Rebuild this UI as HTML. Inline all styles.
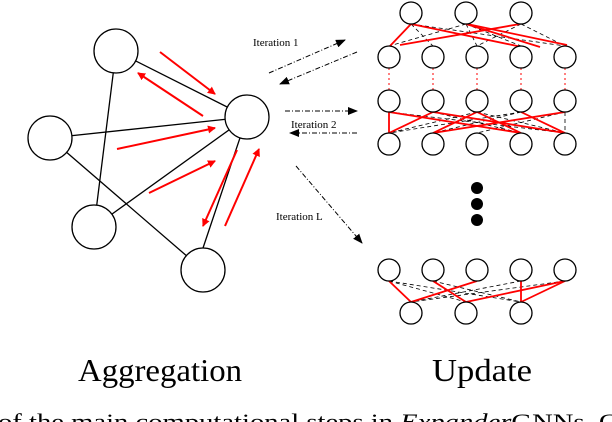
<!DOCTYPE html>
<html><head><style>html,body{margin:0;padding:0;background:#fff}svg{display:block}</style></head><body>
<svg width="612" height="422" viewBox="0 0 612 422" xmlns="http://www.w3.org/2000/svg">
<defs>
<marker id="rh" markerWidth="8" markerHeight="8" refX="7" refY="4" orient="auto" markerUnits="userSpaceOnUse" viewBox="0 0 8 8"><path d="M0,0 L8,4 L0,8 Z" fill="red"/></marker>
<marker id="bh" markerWidth="10" markerHeight="8" refX="9" refY="4" orient="auto" markerUnits="userSpaceOnUse" viewBox="0 0 10 8"><path d="M0,0 L10,4 L0,8 Z" fill="#000"/></marker>
</defs>
<g stroke="#000" stroke-width="1.3" fill="none">
<line x1="116" y1="51" x2="247" y2="117"/>
<line x1="116" y1="51" x2="94" y2="227"/>
<line x1="50" y1="138" x2="247" y2="117"/>
<line x1="50" y1="138" x2="203" y2="270"/>
<line x1="94" y1="227" x2="247" y2="117"/>
<line x1="203" y1="248" x2="247" y2="117"/>
</g>
<g stroke="#000" stroke-width="1.3" fill="#fff">
<circle cx="116" cy="51" r="22"/><circle cx="50" cy="138" r="22"/><circle cx="247" cy="117" r="22"/><circle cx="94" cy="227" r="22"/><circle cx="203" cy="270" r="22"/>
</g>
<g stroke="red" stroke-width="2" marker-end="url(#rh)">
<line x1="160" y1="52" x2="215" y2="94"/>
<line x1="203" y1="116" x2="138" y2="73"/>
<line x1="117" y1="149" x2="215" y2="128"/>
<line x1="149" y1="193" x2="215" y2="161"/>
<line x1="237" y1="150" x2="203" y2="226"/>
<line x1="225" y1="226" x2="259" y2="149"/>
</g>
<g stroke="#000" stroke-width="1" stroke-dasharray="5,2,1,2" marker-end="url(#bh)">
<line x1="269" y1="73" x2="345" y2="40"/>
<line x1="357" y1="52" x2="280" y2="84"/>
<line x1="285" y1="111" x2="357" y2="111"/>
<line x1="357" y1="133" x2="290" y2="133"/>
<line x1="296" y1="166" x2="362" y2="243"/>
</g>
<g font-family="Liberation Serif, serif" font-size="11" fill="#000">
<text x="253" y="46">Iteration 1</text>
<text x="291" y="128">Iteration 2</text>
<text x="276" y="220">Iteration L</text>
</g>
<!-- update layers -->
<g stroke="#000" stroke-width="0.8" stroke-dasharray="4,3" fill="none">
<line x1="411" y1="24" x2="433" y2="46"/><line x1="411" y1="24" x2="565" y2="46"/><line x1="466" y1="24" x2="389" y2="46"/><line x1="466" y1="24" x2="521" y2="46"/><line x1="521" y1="24" x2="477" y2="46"/><line x1="521" y1="24" x2="565" y2="46"/><line x1="466" y1="24" x2="477" y2="46"/>
<line x1="389" y1="112" x2="521" y2="133"/><line x1="389" y1="112" x2="565" y2="133"/><line x1="433" y1="112" x2="521" y2="133"/><line x1="477" y1="112" x2="389" y2="133"/><line x1="477" y1="112" x2="565" y2="133"/><line x1="521" y1="112" x2="389" y2="133"/><line x1="521" y1="112" x2="433" y2="133"/><line x1="565" y1="112" x2="477" y2="133"/><line x1="565" y1="112" x2="565" y2="133"/><line x1="433" y1="112" x2="389" y2="133"/>
<line x1="389" y1="281" x2="521" y2="302"/><line x1="433" y1="281" x2="521" y2="302"/><line x1="477" y1="281" x2="411" y2="302"/><line x1="521" y1="281" x2="411" y2="302"/><line x1="565" y1="281" x2="411" y2="302"/><line x1="389" y1="281" x2="466" y2="302"/>
</g>
<g stroke="red" stroke-width="1" stroke-dasharray="2,3">
<line x1="389" y1="68" x2="389" y2="90"/><line x1="433" y1="68" x2="433" y2="90"/><line x1="477" y1="68" x2="477" y2="90"/><line x1="521" y1="68" x2="521" y2="90"/><line x1="565" y1="68" x2="565" y2="90"/>
</g>
<g stroke="red" stroke-width="1.8">
<line x1="411" y1="24" x2="390" y2="46"/><line x1="411" y1="24" x2="522" y2="47"/><line x1="467" y1="24" x2="567" y2="45"/><line x1="520" y1="24" x2="400" y2="45"/><line x1="466" y1="24" x2="540" y2="47"/>
<line x1="389" y1="112" x2="389" y2="133"/><line x1="433" y1="112" x2="389" y2="133"/><line x1="433" y1="112" x2="565" y2="133"/><line x1="477" y1="112" x2="433" y2="133"/><line x1="565" y1="112" x2="433" y2="133"/><line x1="389" y1="112" x2="521" y2="133"/><line x1="521" y1="112" x2="565" y2="133"/><line x1="477" y1="112" x2="521" y2="133"/>
<line x1="389" y1="281" x2="411" y2="302"/><line x1="433" y1="281" x2="466" y2="302"/><line x1="477" y1="281" x2="411" y2="302"/><line x1="521" y1="281" x2="521" y2="302"/><line x1="565" y1="281" x2="466" y2="302"/><line x1="565" y1="281" x2="521" y2="302"/>
</g>
<g stroke="#000" stroke-width="1.3" fill="#fff">
<circle cx="411" cy="13" r="11"/><circle cx="466" cy="13" r="11"/><circle cx="521" cy="13" r="11"/>
<circle cx="389" cy="57" r="11"/><circle cx="433" cy="57" r="11"/><circle cx="477" cy="57" r="11"/><circle cx="521" cy="57" r="11"/><circle cx="565" cy="57" r="11"/>
<circle cx="389" cy="101" r="11"/><circle cx="433" cy="101" r="11"/><circle cx="477" cy="101" r="11"/><circle cx="521" cy="101" r="11"/><circle cx="565" cy="101" r="11"/>
<circle cx="389" cy="144" r="11"/><circle cx="433" cy="144" r="11"/><circle cx="477" cy="144" r="11"/><circle cx="521" cy="144" r="11"/><circle cx="565" cy="144" r="11"/>
<circle cx="389" cy="270" r="11"/><circle cx="433" cy="270" r="11"/><circle cx="477" cy="270" r="11"/><circle cx="521" cy="270" r="11"/><circle cx="565" cy="270" r="11"/>
<circle cx="411" cy="313" r="11"/><circle cx="466" cy="313" r="11"/><circle cx="521" cy="313" r="11"/>
</g>
<circle cx="477" cy="188" r="6"/><circle cx="477" cy="204" r="6"/><circle cx="477" cy="220" r="6"/>
<g font-family="Liberation Serif, serif" fill="#000">
<text x="78" y="381" font-size="32" textLength="164" lengthAdjust="spacingAndGlyphs">Aggregation</text>
<text x="432" y="381" font-size="32" textLength="100" lengthAdjust="spacingAndGlyphs">Update</text>
<text x="-2" y="429" font-size="22" textLength="620" lengthAdjust="spacingAndGlyphs">of the main computational steps in <tspan font-style="italic">Expander</tspan>GNNs. C</text>
</g>
</svg>
</body></html>
